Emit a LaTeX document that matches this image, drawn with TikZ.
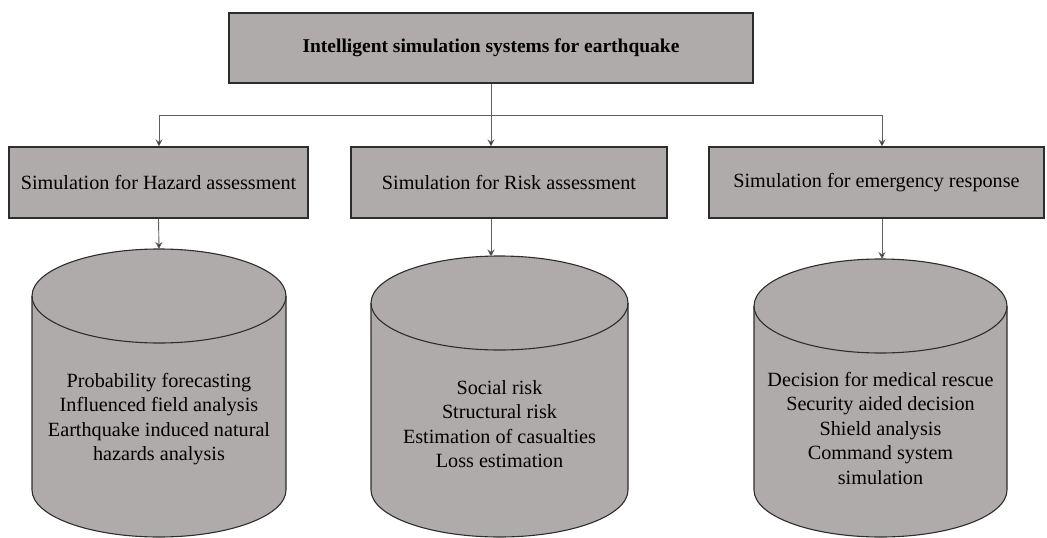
\documentclass[tikz,border=0pt]{standalone}
\usepackage{fontspec}
\setmainfont{Liberation Serif}
\usetikzlibrary{arrows.meta}
\definecolor{boxgray}{RGB}{175,171,171}
\definecolor{edgeline}{RGB}{45,45,45}
\definecolor{wire}{RGB}{95,95,95}

% cylinder: centre x, top ellipse centre y, bottom ellipse centre y, x radius, y radius
\newcommand\drumshape[5]{%
  \fill[boxgray] (#1-#4,#2) -- (#1-#4,#3)
    arc[start angle=180,end angle=360,x radius=#4pt,y radius=#5pt] -- (#1+#4,#2) -- cycle;
  \fill[boxgray] (#1,#2) ellipse[x radius=#4pt,y radius=#5pt];
  \draw[edgeline,line width=1.1pt] (#1-#4,#2) -- (#1-#4,#3)
    arc[start angle=180,end angle=360,x radius=#4pt,y radius=#5pt] -- (#1+#4,#2);
  \draw[edgeline,line width=1.1pt] (#1,#2) ellipse[x radius=#4pt,y radius=#5pt];
}

\begin{document}
\begin{tikzpicture}[x=1pt,y=-1pt,
  boxnode/.style={draw=edgeline,line width=1.2pt,fill=boxgray,inner sep=0pt,
    minimum height=71pt,font=\fontsize{20.2}{24}\selectfont},
  bodytext/.style={align=center,inner sep=0pt,font=\fontsize{20.2}{24.5}\selectfont},
  arr/.style={draw=wire,line width=0.9pt,-{Stealth[length=7pt,width=7pt,fill=black]}},
  wireline/.style={draw=wire,line width=0.9pt}]
\useasboundingbox (0,0) rectangle (1047,538);

% boxes
\node[boxnode,minimum width=524pt,minimum height=70pt,font=\fontsize{19.5}{24}\selectfont\bfseries]
  (top) at (491,48) {Intelligent simulation systems for earthquake};
\node[boxnode,minimum width=299pt] (b1) at (158.5,182.5) {Simulation for Hazard assessment};
\node[boxnode,minimum width=316pt] (b2) at (509,182.5) {Simulation for Risk assessment};
\node[boxnode,minimum width=335pt] (b3) at (876.5,182.5) {Simulation for emergency response};

% cylinders
\drumshape{159}{296}{490}{127}{47}
\drumshape{499.5}{303}{490}{128.5}{47}
\drumshape{880.5}{306}{490}{126.5}{47}
\coordinate (c1) at (159,249);
\coordinate (c2) at (491,256.5);
\coordinate (c3) at (882,259);

\node[bodytext] (t1) at (159,419) {Probability forecasting\\Influenced field analysis\\Earthquake induced natural\\hazards analysis};
\node[bodytext] (t2) at (499.5,424) {Social risk\\Structural risk\\Estimation of casualties\\Loss estimation};
\node[bodytext] (t3) at (880.5,428) {Decision for medical rescue\\Security aided decision\\Shield analysis\\Command system\\simulation};

% connectors
\coordinate (j1) at (159,115);
\coordinate (j3) at (882,115);
\draw[arr] (top.south) -- (top.south |- b2.north);
\draw[wireline] (j1) -- (j3);
\draw[arr] (j1) -- (j1 |- b1.north);
\draw[arr] (j3) -- (j3 |- b3.north);
\draw[arr] (b1.south) -- (c1);
\draw[arr] (c2 |- b2.south) -- (c2);
\draw[arr] (c3 |- b3.south) -- (c3);
\end{tikzpicture}
\end{document}
